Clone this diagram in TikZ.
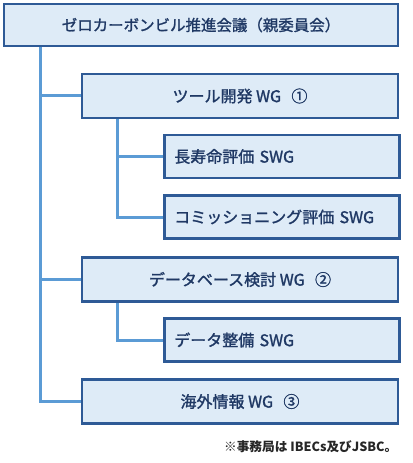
\documentclass[tikz,border=0pt]{standalone}
\usepackage{fontspec}
\setmainfont{Noto Sans CJK JP}
\newfontfamily\boxfont{Noto Sans CJK JP}[FakeBold=1.4]
\usepackage{xcolor}
\usepackage{tikz}
\usetikzlibrary{positioning,backgrounds}
\definecolor{boxfill}{RGB}{222,235,247}
\definecolor{boxline}{RGB}{46,90,150}
\definecolor{linkblue}{RGB}{91,155,213}
\definecolor{textnavy}{RGB}{31,56,100}
\tikzset{
  unit/.style={draw=boxline, fill=boxfill, line width=1.9pt, text=textnavy,
    font=\boxfont\fontsize{12}{14}\selectfont, inner sep=0pt},
  council/.style={unit, minimum width=295.5pt, minimum height=31.5pt,
    font=\boxfont\fontsize{11.6}{14}\selectfont},                      % top box
  wgbox/.style={unit, minimum width=237pt, minimum height=33pt},       % WG
  swgbox/.style={unit, anchor=west, minimum height=32.25pt,
    text width=161.25pt, align=left, inner xsep=7.5pt},                % SWG
  link/.style={draw=linkblue, line width=2.25pt},
  note/.style={anchor=east, text=black!85, font=\fontsize{9.5}{11}\selectfont\bfseries}
}
\newcommand{\WGgap}{\hspace{0.65em}}

\begin{document}
\begin{tikzpicture}[x=0.75pt, y=-0.75pt]
  \useasboundingbox (0,0) rectangle (413,463);
  % boxes
  \node[council] (top) at (201,25) {ゼロカーボンビル推進会議（親委員会）};
  \node[wgbox] (wg1) at (240,96) {ツール開発 WG\WGgap ①};
  \node[swgbox] (swg1) at (163,156.5) {長寿命評価 SWG};
  \node[swgbox] (swg2) at (163,217) {コミッショニング評価 SWG};
  \node[wgbox] (wg2) at (240,279.5) {データベース検討 WG\WGgap ②};
  \node[swgbox] (swg3) at (163,340) {データ整備 SWG};
  \node[wgbox] (wg3) at (240,401.5) {海外情報 WG\WGgap ③};
  \node[note] (note) at (402,447) {※事務局は IBECs及びJSBC。};
  % connectors
  \coordinate (trunk) at (40,46);
  \coordinate (sub1) at (117,118);
  \coordinate (sub2) at (117,301);
  \begin{scope}[on background layer]
    \foreach \t in {wg1,wg2,wg3}
      \draw[link] (trunk) |- (\t.west);
    \foreach \t in {swg1,swg2}
      \draw[link] (sub1) |- (\t.west);
    \draw[link] (sub2) |- (swg3.west);
  \end{scope}
\end{tikzpicture}
\end{document}
